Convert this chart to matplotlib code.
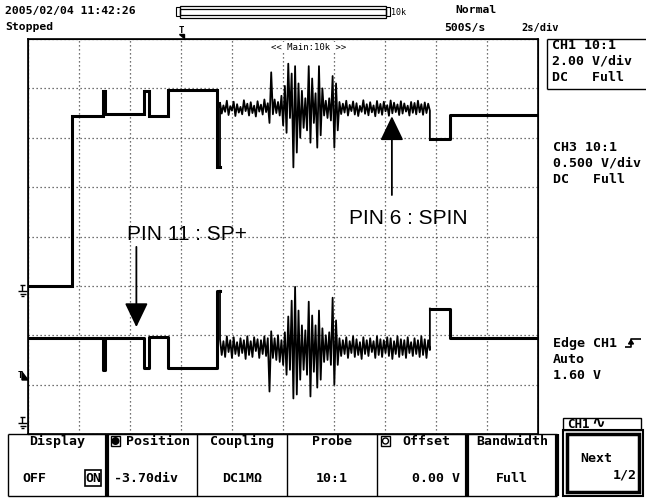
import numpy as np
import matplotlib
matplotlib.use("Agg")
import matplotlib.pyplot as plt
from matplotlib.patches import Rectangle, Polygon, Circle

W, H = 646, 498
MONO = "DejaVu Sans Mono"

# ---- waveform data: time in s (2 s/div), CH1 in V (2 V/div), CH3 in V (0.5 V/div) ----
ch1_pre_t = [0.0, 1.74, 2.93, 3.02, 4.55, 4.75, 5.49, 7.40, 7.53]
ch1_pre_v = [0.0, 6.87, 7.90, 6.98, 7.90, 6.87, 7.93, 4.82]
ch1_post_t = [15.76, 16.55, 20.0]
ch1_post_v = [5.94, 6.91]
# samples between 7.53 s and 15.76 s (burst around 9.5-12.1 s)
ch1_noise = [7.42, 6.98, 7.31, 7.05, 7.50, 6.92, 7.28, 7.10, 7.46, 6.88,
             7.36, 7.02, 7.25, 6.95, 7.52, 7.08, 7.38, 6.90, 7.44, 7.00,
             7.30, 6.86, 7.48, 7.06, 7.34, 6.94, 7.55, 7.04, 7.40,
             6.60, 8.65, 6.95, 7.55, 7.00, 7.45, 6.90, 7.70, 6.50, 8.10,
             6.20, 9.00, 6.80, 8.60, 4.80, 8.90, 5.40, 8.20, 6.00, 7.90,
             6.40, 7.60, 6.30, 8.90, 5.80, 8.40, 6.60, 7.80, 5.60, 8.90,
             6.10, 8.00, 6.90, 7.50, 6.80, 7.60, 6.70, 8.50, 5.60, 8.20,
             6.30,
             7.45, 6.96, 7.38, 7.02, 7.50, 6.90, 7.33, 7.08, 7.47, 6.94,
             7.40, 6.88, 7.29, 7.05, 7.52, 6.97, 7.36, 6.91, 7.44, 7.03,
             7.31, 6.87, 7.49, 7.00, 7.37, 6.93, 7.46, 7.07, 7.32, 6.89,
             7.51, 6.99, 7.42, 7.04, 7.35, 6.92, 7.48, 6.98, 7.39, 7.06,
             7.30, 6.90, 7.45, 7.01, 7.41, 6.95, 7.50, 7.03, 7.36, 6.93,
             7.43, 7.00, 7.38, 7.10]

ch3_pre_t = [0.0, 2.93, 3.02, 4.55, 4.75, 5.49, 7.40, 7.53]
ch3_pre_v = [0.82, 0.50, 0.82, 0.52, 0.83, 0.52, 1.30]
ch3_post_t = [15.76, 16.55, 20.0]
ch3_post_v = [1.12, 0.82]
ch3_noise = [0.81, 0.65, 0.79, 0.63, 0.84, 0.68, 0.80, 0.62, 0.83, 0.66,
             0.78, 0.64, 0.82, 0.67, 0.80, 0.61, 0.84, 0.65, 0.79, 0.63,
             0.83, 0.69, 0.81, 0.62, 0.80, 0.66, 0.84, 0.64, 0.82,
             0.28, 0.89, 0.62, 0.82, 0.60, 0.85, 0.58, 0.80, 0.55, 0.88,
             0.45, 1.04, 0.50, 1.20, 0.21, 1.34, 0.25, 1.10, 0.40, 0.95,
             0.50, 0.90, 0.45, 1.19, 0.23, 1.05, 0.48, 0.95, 0.32, 1.10,
             0.40, 0.92, 0.58, 0.85, 0.60, 0.88, 0.55, 1.23, 0.35, 1.00,
             0.55,
             0.82, 0.64, 0.80, 0.66, 0.83, 0.62, 0.79, 0.67, 0.84, 0.63,
             0.81, 0.65, 0.78, 0.61, 0.83, 0.66, 0.80, 0.64, 0.82, 0.68,
             0.79, 0.62, 0.84, 0.65, 0.81, 0.63, 0.80, 0.67, 0.83, 0.64,
             0.82, 0.61, 0.79, 0.66, 0.84, 0.63, 0.81, 0.65, 0.80, 0.62,
             0.83, 0.67, 0.78, 0.64, 0.82, 0.66, 0.80, 0.63, 0.84, 0.65,
             0.81, 0.62, 0.80, 0.70]

ch1_volts_div = 2.0
ch3_volts_div = 0.5
ch1_pos_div = 3.0     # ground marker, divisions from bottom
ch3_pos_div = 0.30    # -3.70 div from centre


def stairs(t, v):
    xs, ys = [], []
    for i, level in enumerate(v):
        xs += [t[i], t[i + 1]]
        ys += [level, level]
    return xs, ys


def px(x, y):
    # pixel (top-left origin) -> figure fraction
    return x / W, 1 - y / H


fig = plt.figure(figsize=(W / 100, H / 100), dpi=100)
fig.patch.set_facecolor("white")

# screen area: 10 x 8 divisions
l, b = px(28, 434)
ax = fig.add_axes([l, b, 510 / W, 395 / H])
ax.set_xlim(0, 20)
ax.set_ylim(-ch1_pos_div * ch1_volts_div, (8 - ch1_pos_div) * ch1_volts_div)
ax.set_xticks(np.arange(0, 21, 2))
ax.set_yticks(np.arange(-6, 11, 2))
ax.tick_params(length=0, labelleft=False, labelbottom=False)
ax.grid(True, color="#444444", linestyle=(0, (1, 2.2)), linewidth=0.9)
for s in ax.spines.values():
    s.set_linewidth(1.2)

ax3 = ax.twinx()
ax3.set_ylim(-ch3_pos_div * ch3_volts_div, (8 - ch3_pos_div) * ch3_volts_div)
ax3.tick_params(length=0, labelright=False)
ax3.set_yticks([])

# CH1
xs, ys = stairs(ch1_pre_t, ch1_pre_v)
ax.plot(xs, ys, color="black", lw=2.2, solid_joinstyle="miter")
tn = np.linspace(ch1_pre_t[-1], ch1_post_t[0], len(ch1_noise))
ax.plot(np.r_[ch1_pre_t[-1], tn, ch1_post_t[0]],
        np.r_[ch1_pre_v[-1], ch1_noise, ch1_post_v[0]], color="black", lw=1.3)
xs, ys = stairs(ch1_post_t, ch1_post_v)
ax.plot(xs, ys, color="black", lw=2.2)

# CH3
xs, ys = stairs(ch3_pre_t, ch3_pre_v)
ax3.plot(xs, ys, color="black", lw=2.2)
tn = np.linspace(ch3_pre_t[-1], ch3_post_t[0], len(ch3_noise))
ax3.plot(np.r_[ch3_pre_t[-1], tn, ch3_post_t[0]],
         np.r_[ch3_pre_v[-1], ch3_noise, ch3_post_v[0]], color="black", lw=1.3)
xs, ys = stairs(ch3_post_t, ch3_post_v)
ax3.plot(xs, ys, color="black", lw=2.2)

# annotations
arrow = dict(arrowstyle="-|>,head_length=0.75,head_width=0.36", mutation_scale=20,
             color="black", lw=1.3, shrinkA=0, shrinkB=0)
ax.annotate("", xy=(14.27, 6.87), xytext=(14.27, 3.68), arrowprops=arrow)
ax.text(14.9, 2.74, "PIN 6 : SPIN", family="Liberation Sans", fontsize=15,
        ha="center", va="center")
ax.annotate("", xy=(4.25, -1.67), xytext=(4.25, 1.58), arrowprops=arrow)
ax.text(6.22, 2.10, "PIN 11 : SP+", family="Liberation Sans", fontsize=15,
        ha="center", va="center")
ax.text(11.0, 9.65, "<< Main:10k >>", family=MONO, fontsize=6.5,
        ha="center", va="center",
        bbox=dict(facecolor="white", edgecolor="none", pad=0.5))

# ---- screen furniture in pixel coordinates ----
ui = fig.add_axes([0, 0, 1, 1], zorder=5)
ui.set_xlim(0, W)
ui.set_ylim(H, 0)
ui.axis("off")


def t(x, y, s, size=8.2, ha="left", weight="bold", **kw):
    ui.text(x, y, s, family=MONO, fontsize=size, weight=weight, ha=ha, va="center", **kw)


def line(xs, ys, lw=1.0):
    ui.plot(xs, ys, color="black", lw=lw, solid_capstyle="butt")


def box(x0, y0, x1, y1, lw=1.0, fc="none"):
    ui.add_patch(Rectangle((x0, y0), x1 - x0, y1 - y0, fill=fc != "none",
                           facecolor=fc, edgecolor="black", lw=lw))


def ground(x, y):
    line([x + 4, x + 4], [y, y + 6])
    line([x + 1.5, x + 6.5], [y, y])
    line([x, x + 9], [y + 6, y + 6])
    line([x + 1.5, x + 7.5], [y + 8.5, y + 8.5])
    line([x + 3, x + 6], [y + 11, y + 11])


# header
t(5, 11, "2005/02/04 11:42:26")
t(5, 27, "Stopped")
box(176, 7, 180, 16, lw=0.8)
box(180, 5.5, 386, 17.5, lw=0.9)
box(180, 8.5, 386, 14.5, lw=0.9)
box(386, 7, 390, 16, lw=0.8)
t(391, 12, "10k", size=6, weight="normal")
t(181, 30, "T", size=6.5, ha="center")
ui.add_patch(Polygon([[179, 34], [184, 34], [184, 38]], closed=True, color="black"))
t(455, 10, "Normal")
t(444, 28, "500S/s")
t(521, 28, "2s/div", size=7.5)

# left markers
ground(18, 285)
ground(18, 417)
t(18, 375, "T", size=6)
ui.add_patch(Polygon([[22, 372], [28, 380], [22, 380]], closed=True, color="black"))

# right panel
line([547, 646], [39, 39])
line([547, 547], [39, 89])
line([547, 646], [89, 89])
t(552, 45, "CH1 10:1", size=9.5)
t(552, 61, "2.00 V/div", size=9.5)
t(552, 77, "DC   Full", size=9.5)
t(553, 147, "CH3 10:1", size=9.5)
t(553, 163, "0.500 V/div", size=9.5)
t(553, 179, "DC   Full", size=9.5)
t(553, 343, "Edge CH1", size=9.5)
line([625, 631, 631, 641], [347, 347, 339, 339], lw=1.2)
ui.add_patch(Polygon([[628.5, 344], [633.5, 344], [631, 340]], closed=True, color="black"))
t(553, 359, "Auto", size=9.5)
t(553, 375, "1.60 V", size=9.5)

box(563, 418, 641, 430)
t(567, 424, "CH1", size=9)
ui.text(598, 423, "\u223f", family="DejaVu Sans", fontsize=12, weight="bold",
        ha="center", va="center")

# Next button
box(563, 430, 643, 496, lw=1.5)
box(567, 434, 639, 492, lw=2.5)
t(580, 458, "Next", size=9.5)
t(637, 475, "1/2", size=9.5, ha="right")

# soft keys
keys_x = [8, 107, 197, 287, 377, 467, 557]
line([8, 557], [434, 434])
line([8, 557], [496, 496])
for i, x in enumerate(keys_x):
    line([x, x], [434, 496], lw=3 if i in (1, 5, 6) else 1)
t(57, 441, "Display", size=9.5, ha="center")
t(22, 478, "OFF", size=9.5)
t(93, 478, "ON", size=9.5, ha="center")
box(85, 470, 101, 486, lw=1.2)
ui.add_patch(Rectangle((111, 436), 9, 10, facecolor="none", edgecolor="black", lw=1))
ui.add_patch(Circle((115.5, 441), 3.3, color="black"))
t(158, 441, "Position", size=9.5, ha="center")
t(146, 478, "-3.70div", size=9.5, ha="center")
t(242, 441, "Coupling", size=9.5, ha="center")
t(242, 478, "DC1M\u03a9", size=9.5, ha="center")
t(332, 441, "Probe", size=9.5, ha="center")
t(332, 478, "10:1", size=9.5, ha="center")
ui.add_patch(Rectangle((381, 436), 9, 10, facecolor="none", edgecolor="black", lw=1))
ui.add_patch(Circle((385.5, 441), 3.0, facecolor="none", edgecolor="black", lw=1))
t(426, 441, "Offset", size=9.5, ha="center")
t(460, 478, "0.00 V", size=9.5, ha="right")
t(512, 441, "Bandwidth", size=9.5, ha="center")
t(512, 478, "Full", size=9.5, ha="center")

fig.savefig("out.png", dpi=100, facecolor="white")
